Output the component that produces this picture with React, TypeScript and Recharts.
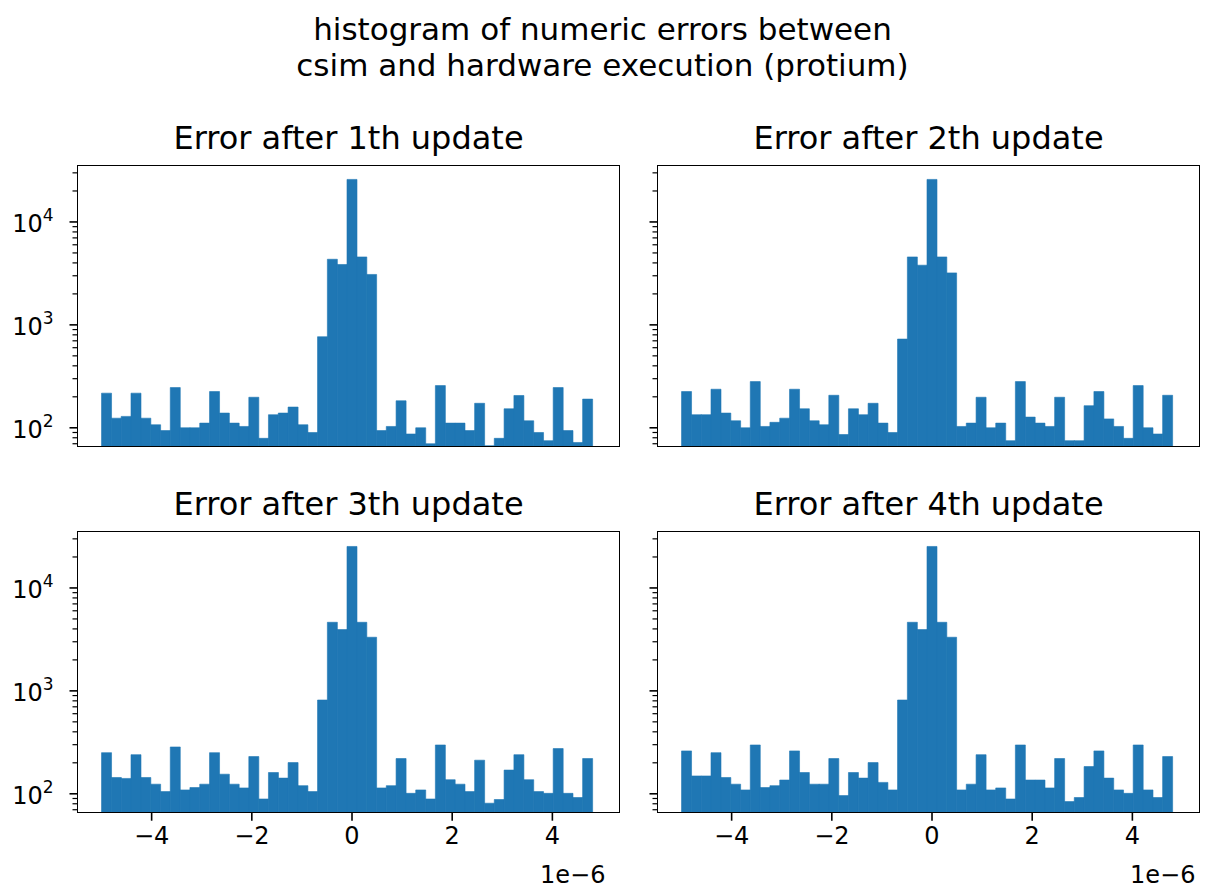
import { BarChart, Bar, XAxis, YAxis } from 'recharts'

// bin centres, in units of 1e-6
const binCenters = [
  -4.902, -4.706, -4.51, -4.314, -4.118, -3.922, -3.726, -3.53, -3.334, -3.138,
  -2.942, -2.746, -2.55, -2.354, -2.158, -1.962, -1.766, -1.57, -1.374, -1.178,
  -0.982, -0.786, -0.59, -0.394, -0.198, -0.002, 0.194, 0.39, 0.586, 0.782,
  0.978, 1.174, 1.37, 1.566, 1.762, 1.958, 2.154, 2.35, 2.546, 2.742,
  2.938, 3.134, 3.33, 3.526, 3.722, 3.918, 4.114, 4.31, 4.506, 4.702,
]

const counts1 = [
  217, 124, 129, 217, 124, 107, 94, 246, 100, 100,
  111, 225, 139, 111, 103, 198, 79, 134, 139, 159,
  107, 90, 767, 4340, 3860, 25900, 4570, 3090, 94, 103,
  183, 87, 100, 70, 257, 111, 111, 94, 173, 67,
  79, 153, 206, 117, 90, 75, 246, 94, 72, 190,
]
const counts2 = [
  225, 134, 134, 237, 139, 117, 100, 281, 103, 113,
  124, 237, 153, 117, 107, 207, 86, 153, 134, 173,
  111, 90, 728, 4570, 3800, 25900, 4570, 3200, 103, 111,
  198, 100, 111, 75, 281, 127, 111, 103, 198, 75,
  75, 164, 225, 122, 103, 79, 257, 100, 87, 207,
]
const counts3 = [
  251, 144, 141, 240, 144, 124, 105, 285, 109, 115,
  124, 251, 155, 124, 114, 230, 89, 161, 142, 201,
  120, 105, 815, 4640, 3940, 25300, 4640, 3320, 114, 120,
  220, 101, 109, 89, 298, 137, 124, 105, 212, 81,
  88, 170, 240, 137, 105, 101, 275, 101, 92, 220,
]
const counts4 = [
  261, 149, 149, 251, 144, 124, 109, 298, 115, 120,
  136, 261, 161, 124, 124, 220, 96, 161, 142, 201,
  129, 109, 815, 4640, 3940, 25300, 4640, 3320, 109, 124,
  240, 109, 114, 89, 298, 136, 136, 114, 220, 84,
  92, 184, 261, 142, 109, 101, 298, 109, 92, 230,
]

const titles = [
  'Error after 1th update',
  'Error after 2th update',
  'Error after 3th update',
  'Error after 4th update',
]

const xTicks = [-4, -2, 0, 2, 4]
const yMajor = [100, 1000, 10000]
const yTicks = [
  70, 80, 90, 100, 200, 300, 400, 500, 600, 700, 800, 900,
  1000, 2000, 3000, 4000, 5000, 6000, 7000, 8000, 9000, 10000, 20000, 30000,
]

const BLUE = '#1f77b4'
const FONT = '"DejaVu Sans", sans-serif'

// plot box geometry
const PLOT_W = 542
const PLOT_H = 281
const Y_AXIS_W = 77.5
const TOP_PAD = 25.7
const X_AXIS_H = 53.3
const CHART_W = 640
const CHART_H = TOP_PAD + PLOT_H + X_AXIS_H

const fmtX = (v: number) => (v < 0 ? `\u2212${-v}` : `${v}`)

function LogTick(props: any) {
  const { x, y, payload, showLabel } = props
  const v = payload.value
  const major = yMajor.includes(v)
  return (
    <g>
      <line x1={x - (major ? 8 : 5)} x2={x} y1={y} y2={y} stroke="#000" strokeWidth={major ? 1.6 : 1.2} />
      {major && showLabel && (
        <text x={x - 24} y={y + 10} textAnchor="end" fontSize={24} fill="#000" fontFamily={FONT}>
          <tspan>10</tspan>
          <tspan dy={-11} fontSize={17}>{Math.round(Math.log10(v))}</tspan>
        </text>
      )}
    </g>
  )
}

function Panel({ counts, title, left, top, showX, showY, offsetRight }: any) {
  const data = binCenters.map((x, i) => ({ x, count: counts[i] }))
  const plotLeft = left + Y_AXIS_W
  const plotTop = top + TOP_PAD
  return (
    <>
      <div
        style={{
          position: 'absolute',
          left: plotLeft,
          top: plotTop - 46,
          width: PLOT_W,
          textAlign: 'center',
          fontSize: 32,
          lineHeight: '36px',
          fontFamily: FONT,
          color: '#000',
          whiteSpace: 'nowrap',
        }}
      >
        {title}
      </div>
      <div style={{ position: 'absolute', left, top }}>
        <BarChart
          width={CHART_W}
          height={CHART_H}
          data={data}
          margin={{ top: TOP_PAD, right: CHART_W - Y_AXIS_W - PLOT_W, bottom: 0, left: 0 }}
          barCategoryGap={0}
          barGap={0}
        >
          <XAxis
            dataKey="x"
            type="number"
            domain={[-5.48, 5.34]}
            ticks={xTicks}
            interval={0}
            height={X_AXIS_H}
            axisLine={false}
            tickLine={{ stroke: '#000', strokeWidth: 1.6 }}
            tickSize={8}
            tickMargin={6}
            tickFormatter={fmtX}
            tick={showX ? { fill: '#000', fontSize: 24, fontFamily: FONT } : false}
          />
          <YAxis
            scale="log"
            type="number"
            domain={[65.5, 35200]}
            allowDataOverflow
            ticks={yTicks}
            interval={0}
            width={Y_AXIS_W}
            axisLine={false}
            tickLine={false}
            tickSize={0}
            tickMargin={0}
            tick={<LogTick showLabel={showY} />}
          />
          <Bar dataKey="count" fill={BLUE} stroke={BLUE} strokeWidth={0.6} isAnimationActive={false} />
        </BarChart>
      </div>
      <div
        style={{
          position: 'absolute',
          left: plotLeft - 0.8,
          top: plotTop - 0.8,
          width: PLOT_W + 1.6,
          height: PLOT_H + 1.6,
          boxSizing: 'border-box',
          border: '1.6px solid #000',
          pointerEvents: 'none',
        }}
      />
      {showX && (
        <div
          style={{
            position: 'absolute',
            left: plotLeft + PLOT_W - 200 - offsetRight,
            top: plotTop + PLOT_H + 48,
            width: 200,
            textAlign: 'right',
            fontSize: 24,
            fontFamily: FONT,
            color: '#000',
          }}
        >
          1e{'\u2212'}6
        </div>
      )}
    </>
  )
}

export default function App() {
  const supStyle: any = {
    position: 'absolute',
    left: 0,
    width: 1205,
    textAlign: 'center',
    fontSize: 31,
    lineHeight: '36px',
    fontFamily: FONT,
    color: '#000',
    whiteSpace: 'nowrap',
  }
  return (
    <div
      style={{
        position: 'absolute',
        left: 0,
        top: 0,
        width: 1205,
        height: 895,
        background: '#fff',
        overflow: 'hidden',
      }}
    >
      <div style={{ ...supStyle, top: 11 }}>histogram of numeric errors between</div>
      <div style={{ ...supStyle, top: 47 }}>csim and hardware execution (protium)</div>
      <Panel counts={counts1} title={titles[0]} left={0} top={140} showX={false} showY />
      <Panel counts={counts2} title={titles[1]} left={580} top={140} showX={false} showY={false} />
      <Panel counts={counts3} title={titles[2]} left={0} top={505.8} showX showY offsetRight={14} />
      <Panel counts={counts4} title={titles[3]} left={580} top={505.8} showX showY={false} offsetRight={4} />
    </div>
  )
}
